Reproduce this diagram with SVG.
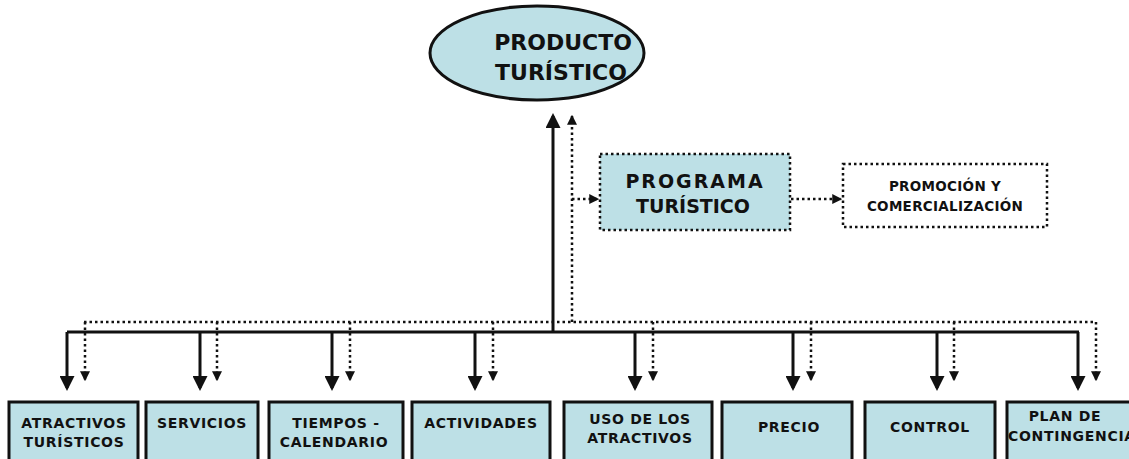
<svg xmlns="http://www.w3.org/2000/svg" width="1129" height="459" viewBox="0 0 1129 459">
<defs>
<style>
.t{font-family:"DejaVu Sans","Liberation Sans",Arial,sans-serif;font-weight:bold;fill:#111;text-anchor:middle}
.s{font-size:14px;letter-spacing:0.7px}
.box{fill:#bde0e6;stroke:#111;stroke-width:3}
.sol{stroke:#111;stroke-width:3;fill:none}
.dot{stroke:#111;stroke-width:2.5;stroke-dasharray:2.5,3;fill:none}
</style>
<marker id="ah" markerWidth="5" markerHeight="5" refX="4" refY="2.5" orient="auto" markerUnits="strokeWidth"><path d="M0,0 L5,2.5 L0,5 Z" fill="#111"/></marker>
<marker id="ahd" markerWidth="4" markerHeight="4" refX="3.5" refY="2" orient="auto" markerUnits="strokeWidth"><path d="M0,0 L4,2 L0,4 Z" fill="#111"/></marker>
</defs>
<rect width="1129" height="459" fill="#fff"/>
<g id="connectors">
<path class="sol" d="M553,332 V116" marker-end="url(#ah)"/>
<path class="dot" d="M572,322 V116" marker-end="url(#ahd)"/>
<path class="sol" d="M67,332 H1079"/>
<path class="dot" d="M84,322 H1096"/>
<path class="dot" d="M572,199 H598" marker-end="url(#ahd)"/>
<path class="dot" d="M791,199 H841" marker-end="url(#ahd)"/>
<path class="sol" d="M67,332 V388" marker-end="url(#ah)"/>
<path class="sol" d="M200,332 V388" marker-end="url(#ah)"/>
<path class="sol" d="M332,332 V388" marker-end="url(#ah)"/>
<path class="sol" d="M475,332 V388" marker-end="url(#ah)"/>
<path class="sol" d="M635,332 V388" marker-end="url(#ah)"/>
<path class="sol" d="M793,332 V388" marker-end="url(#ah)"/>
<path class="sol" d="M937,332 V388" marker-end="url(#ah)"/>
<path class="sol" d="M1078,332 V388" marker-end="url(#ah)"/>
<path class="dot" d="M85,322 V380" marker-end="url(#ahd)"/>
<path class="dot" d="M217,322 V380" marker-end="url(#ahd)"/>
<path class="dot" d="M350,322 V380" marker-end="url(#ahd)"/>
<path class="dot" d="M493,322 V380" marker-end="url(#ahd)"/>
<path class="dot" d="M653,322 V380" marker-end="url(#ahd)"/>
<path class="dot" d="M811,322 V380" marker-end="url(#ahd)"/>
<path class="dot" d="M954,322 V380" marker-end="url(#ahd)"/>
<path class="dot" d="M1096,322 V380" marker-end="url(#ahd)"/>
</g>
<g id="producto">
<ellipse cx="537" cy="53" rx="107" ry="47" fill="#bde0e6" stroke="#111" stroke-width="3"/>
<text class="t" x="563" y="50" font-size="22">PRODUCTO</text>
<text class="t" x="561" y="80" font-size="22">TURÍSTICO</text>
</g>
<g id="programa">
<rect x="600" y="154" width="190" height="76" fill="#bde0e6" stroke="#111" stroke-width="2.5" stroke-dasharray="2.5,3"/>
<text class="t" x="695" y="188" font-size="19" letter-spacing="2">PROGRAMA</text>
<text class="t" x="693" y="213" font-size="19">TURÍSTICO</text>
</g>
<g id="promocion">
<rect x="843" y="164" width="204" height="63" fill="#fff" stroke="#111" stroke-width="2.5" stroke-dasharray="2.5,3"/>
<text class="t" x="945" y="191" font-size="13.5" letter-spacing="0.3">PROMOCIÓN Y</text>
<text class="t" x="945" y="211" font-size="13.5" letter-spacing="0.3">COMERCIALIZACIÓN</text>
</g>
<g id="atractivos">
<rect class="box" x="9" y="402" width="129" height="70"/>
<text class="t s" x="74" y="428">ATRACTIVOS</text>
<text class="t s" x="74" y="447">TURÍSTICOS</text>
</g>
<g id="servicios">
<rect class="box" x="146" y="402" width="112" height="70"/>
<text class="t s" x="202" y="428">SERVICIOS</text>
</g>
<g id="tiempos">
<rect class="box" x="269" y="402" width="134" height="70"/>
<text class="t s" x="336" y="428">TIEMPOS -</text>
<text class="t s" x="334" y="447">CALENDARIO</text>
</g>
<g id="actividades">
<rect class="box" x="412" y="402" width="138" height="70"/>
<text class="t s" x="481" y="428">ACTIVIDADES</text>
</g>
<g id="uso">
<rect class="box" x="564" y="402" width="148" height="70"/>
<text class="t s" x="640" y="424">USO DE LOS</text>
<text class="t s" x="640" y="443">ATRACTIVOS</text>
</g>
<g id="precio">
<rect class="box" x="722" y="402" width="130" height="70"/>
<text class="t s" x="789" y="432">PRECIO</text>
</g>
<g id="control">
<rect class="box" x="865" y="402" width="130" height="70"/>
<text class="t s" x="930" y="432">CONTROL</text>
</g>
<g id="plan">
<rect class="box" x="1007" y="402" width="130" height="70"/>
<text class="t s" x="1065" y="421">PLAN DE</text>
<text class="t s" x="1008" y="441" style="text-anchor:start">CONTINGENCIA</text>
</g>
</svg>
